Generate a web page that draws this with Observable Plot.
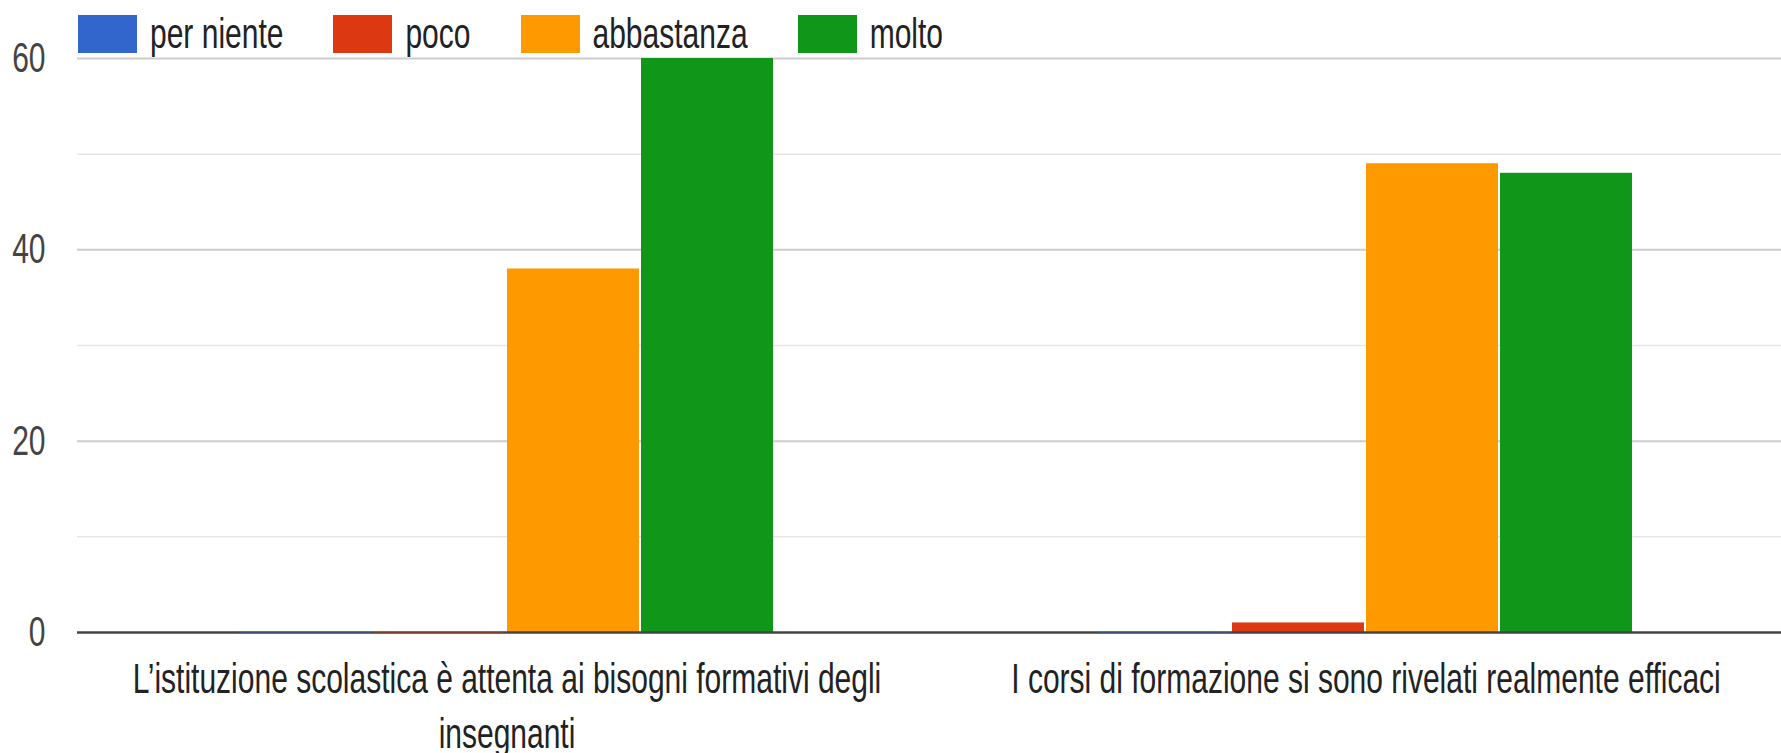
<!DOCTYPE html>
<html>
<head>
<meta charset="utf-8">
<script src="https://cdn.jsdelivr.net/npm/d3@7"></script>
<script src="https://cdn.jsdelivr.net/npm/@observablehq/plot@0.6"></script>
<style>
  html, body { margin: 0; padding: 0; background: #fff; }
  #wrap { position: relative; width: 1781px; height: 753px; }
  #legend { position: absolute; left: 78px; top: 15px; display: flex; align-items: center;
            font-family: "Liberation Sans", Arial, sans-serif; font-size: 30px; color: #222; }
  #legend .item { display: flex; align-items: center; margin-right: 50px; }
  #legend .sw { width: 59px; height: 38px; margin-right: 13px; }
  #legend .lab { display: inline-block; transform: scaleY(1.4); line-height: 38px; }
</style>
</head>
<body>
<div id="wrap"><div id="legend"></div></div>
<script>
const categories = [
  "L’istituzione scolastica è attenta ai bisogni formativi degli insegnanti",
  "I corsi di formazione si sono rivelati realmente efficaci"
];
const series = ["per niente", "poco", "abbastanza", "molto"];
const valuesIstituzione = [0, 0, 38, 60];
const valuesCorsi = [0, 1, 49, 48];
const colors = ["#3366cc", "#dc3912", "#ff9900", "#109618"];
const majorTicks = [0, 20, 40, 60];
const minorTicks = [10, 30, 50];

const data = [];
[valuesIstituzione, valuesCorsi].forEach((vals, ci) => {
  vals.forEach((v, si) => data.push({category: categories[ci], series: series[si], value: v}));
});

const chart = Plot.plot({
  width: 1781,
  height: 753,
  marginLeft: 77,
  marginRight: -14,
  marginTop: 58,
  marginBottom: 121,
  style: {fontFamily: "Liberation Sans, Arial, sans-serif", fontSize: "30px", background: "#fff"},
  fx: {domain: categories, padding: 0},
  x: {domain: series, paddingInner: 0.012, paddingOuter: 1.21, axis: null},
  y: {domain: [0, 60]},
  color: {domain: series, range: colors},
  marks: [
    Plot.gridY(minorTicks, {stroke: "#e6e6e6", strokeOpacity: 1, strokeWidth: 1.5}),
    Plot.gridY(majorTicks.filter(d => d !== 0), {stroke: "#cccccc", strokeOpacity: 1, strokeWidth: 2}),
    Plot.barY(data, {fx: "category", x: "series", y: "value", fill: "series"}),
    Plot.ruleY([0], {stroke: "#444", strokeWidth: 2.5}),
    Plot.tickY(data.filter(d => d.value === 0), {fx: "category", x: "series", y: "value", stroke: "series", strokeWidth: 2.5, strokeOpacity: 0.35}),
    Plot.axisY(majorTicks, {tickSize: 0, tickPadding: 32, fontSize: 30, fill: "#444", label: null}),
    Plot.axisFx({anchor: "bottom", tickSize: 0, tickPadding: 22, fontSize: 30, lineWidth: 29, lineHeight: 1.3, fill: "#222", label: null})
  ]
});

chart.querySelectorAll("text").forEach(t => {
  const tr = t.getAttribute("transform") || "";
  t.setAttribute("transform", tr + " scale(1,1.4)");
});

document.getElementById("wrap").appendChild(chart);

const legend = document.getElementById("legend");
series.forEach((s, i) => {
  const item = document.createElement("div");
  item.className = "item";
  const sw = document.createElement("span");
  sw.className = "sw";
  sw.style.background = colors[i];
  const lab = document.createElement("span");
  lab.className = "lab";
  lab.textContent = s;
  item.appendChild(sw);
  item.appendChild(lab);
  legend.appendChild(item);
});
</script>
</body>
</html>
